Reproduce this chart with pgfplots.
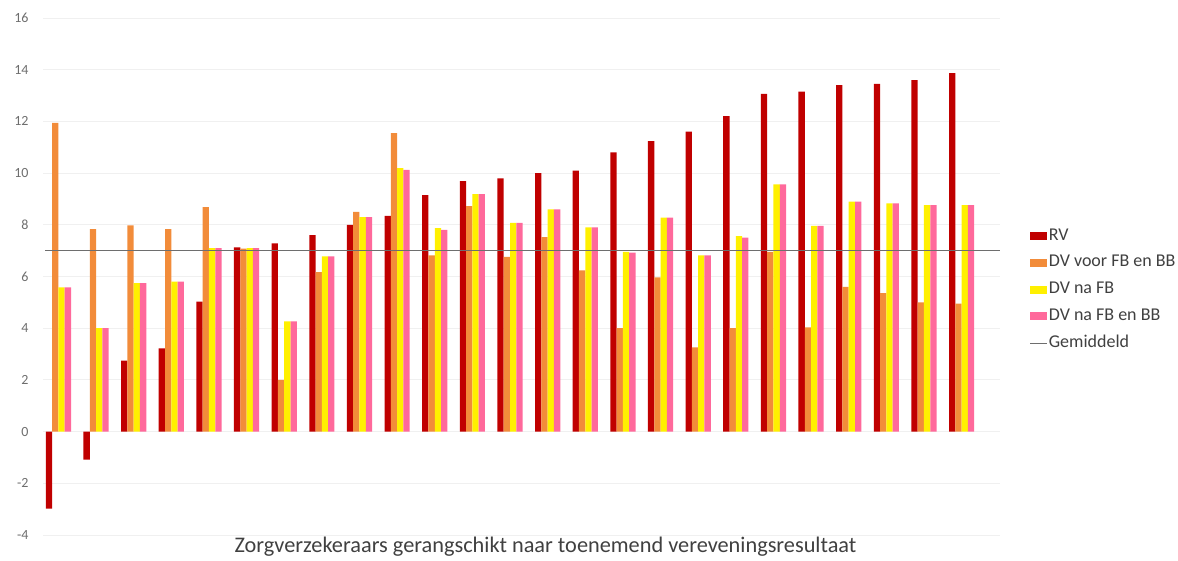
\documentclass[border=0pt]{standalone}
\usepackage{pgfplots}
\pgfplotsset{compat=1.18}
\usepackage{fontspec}
\setmainfont{Carlito}

\definecolor{rv}{RGB}{192,0,0}
\definecolor{dvvoor}{RGB}{242,140,58}
\definecolor{dvna}{RGB}{255,240,0}
\definecolor{dvnabb}{RGB}{255,105,155}
\definecolor{gem}{RGB}{110,110,110}
\definecolor{tickgray}{RGB}{110,110,110}
\definecolor{labelgray}{RGB}{64,64,64}

\begin{document}
\begin{tikzpicture}
	\begin{axis}[
			name=ax,
			scale only axis,
			width=957pt,
			height=517pt,
			ybar=0pt,
			bar width=6.3pt,
			xmin=-0.41, xmax=25.02,
			ymin=-4, ymax=16,
			ytick={-4,-2,...,16},
			xtick=\empty,
			axis line style={draw=none},
			major tick length=0pt,
			ymajorgrids,
			grid style={gray!12, line width=0.8pt},
			/pgf/number format/assume math mode=true,
			yticklabel style={font=\fontsize{14}{16}\selectfont, text=tickgray, xshift=-11pt},
			xlabel={Zorgverzekeraars gerangschikt naar toenemend vereveningsresultaat},
			xlabel style={font=\fontsize{22.3}{26}\selectfont, text=labelgray, at={(axis description cs:0.525,0)}, anchor=north, inner sep=0pt, yshift=-2pt},
			legend style={draw=none, fill=none, at={(1.031,0.594)}, anchor=north west,
				font=\fontsize{18}{21}\selectfont, text=labelgray, inner sep=0pt, row sep=10.75pt,
				nodes={inner sep=1pt, text height=11pt, text depth=3pt}},
			legend cell align=left,
		]

		% RV
		\addplot+[draw=none, fill=rv,
			legend image code/.code={\fill[rv] (0pt,-4pt) rectangle (17pt,4pt);}
		] coordinates {
			(0,-2.98) (1,-1.08) (2,2.75) (3,3.22) (4,5.03)
			(5,7.13) (6,7.28) (7,7.60) (8,8.00) (9,8.35)
			(10,9.15) (11,9.69) (12,9.80) (13,10.00) (14,10.10)
			(15,10.80) (16,11.24) (17,11.60) (18,12.20) (19,13.06)
			(20,13.15) (21,13.40) (22,13.45) (23,13.60) (24,13.87)
		};

		% DV voor FB en BB
		\addplot+[draw=none, fill=dvvoor,
			legend image code/.code={\fill[dvvoor] (0pt,-4pt) rectangle (17pt,4pt);}
		] coordinates {
			(0,11.94) (1,7.83) (2,7.98) (3,7.83) (4,8.68)
			(5,7.08) (6,2.00) (7,6.17) (8,8.50) (9,11.55)
			(10,6.82) (11,8.72) (12,6.76) (13,7.52) (14,6.24)
			(15,4.00) (16,5.97) (17,3.26) (18,4.00) (19,6.95)
			(20,4.03) (21,5.60) (22,5.36) (23,5.00) (24,4.95)
		};

		% DV na FB
		\addplot+[draw=none, fill=dvna,
			legend image code/.code={\fill[dvna] (0pt,-4pt) rectangle (17pt,4pt);}
		] coordinates {
			(0,5.58) (1,4.00) (2,5.74) (3,5.80) (4,7.10)
			(5,7.10) (6,4.26) (7,6.78) (8,8.30) (9,10.19)
			(10,7.87) (11,9.19) (12,8.07) (13,8.60) (14,7.90)
			(15,6.95) (16,8.28) (17,6.82) (18,7.56) (19,9.56)
			(20,7.96) (21,8.90) (22,8.83) (23,8.76) (24,8.76)
		};

		% DV na FB en BB
		\addplot+[draw=none, fill=dvnabb,
			legend image code/.code={\fill[dvnabb] (0pt,-4pt) rectangle (17pt,4pt);}
		] coordinates {
			(0,5.58) (1,4.00) (2,5.74) (3,5.80) (4,7.10)
			(5,7.10) (6,4.26) (7,6.78) (8,8.30) (9,10.12)
			(10,7.80) (11,9.19) (12,8.07) (13,8.60) (14,7.90)
			(15,6.92) (16,8.28) (17,6.82) (18,7.50) (19,9.56)
			(20,7.96) (21,8.90) (22,8.83) (23,8.76) (24,8.76)
		};

		% Gemiddeld
		\addplot[sharp plot, draw=gem, line width=1.4pt, mark=none,
			legend image code/.code={\draw[gem, line width=1pt] (0pt,0pt) -- (17pt,0pt);}
		] coordinates {(-0.35,7) (25.02,7)};

		\legend{RV, DV voor FB en BB, DV na FB, DV na FB en BB, Gemiddeld}
	\end{axis}
	\path ([xshift=-43pt,yshift=-25pt]ax.south west) rectangle ([xshift=178pt,yshift=18pt]ax.north east);
\end{tikzpicture}
\end{document}
